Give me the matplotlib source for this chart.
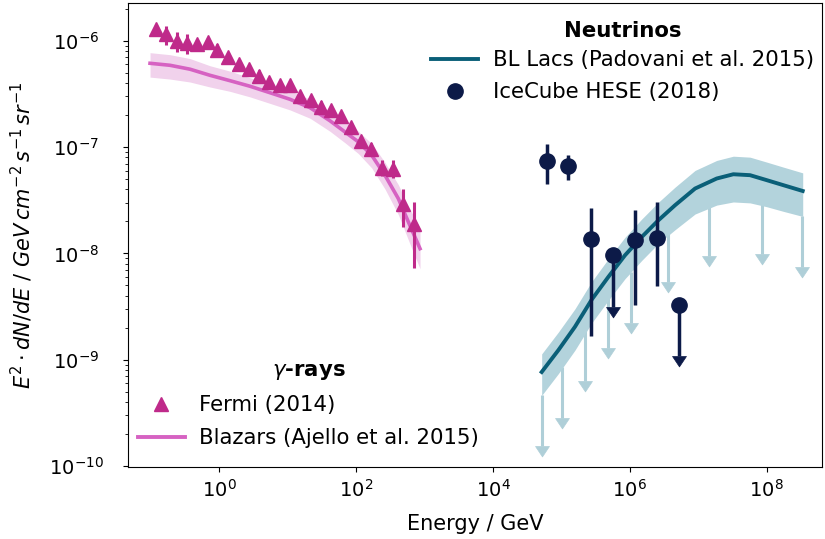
import numpy as np
import matplotlib
matplotlib.use("Agg")
import matplotlib.pyplot as plt
from matplotlib.lines import Line2D
from matplotlib.path import Path

# Fermi-LAT extragalactic gamma-ray background (2014), GeV and GeV cm^-2 s^-1 sr^-1
fermi_energy = [0.118, 0.167, 0.237, 0.335, 0.477, 0.675, 0.938, 1.33, 1.92,
                2.73, 3.79, 5.36, 7.63, 10.9, 15.3, 21.6, 30.6, 42.8, 60.6,
                84.9, 118, 167, 241, 345, 488, 691]
fermi_flux = [1.28e-6, 1.15e-6, 1.00e-6, 9.55e-7, 9.29e-7, 9.66e-7, 8.25e-7,
              7.01e-7, 6.07e-7, 5.47e-7, 4.72e-7, 4.12e-7, 3.82e-7, 3.86e-7,
              3.05e-7, 2.79e-7, 2.41e-7, 2.25e-7, 1.97e-7, 1.55e-7, 1.14e-7,
              9.71e-8, 6.37e-8, 6.29e-8, 2.94e-8, 1.91e-8]
fermi_lo = [1.14e-6, 9.15e-7, 7.90e-7, 7.60e-7, 8.30e-7, 8.60e-7, 7.35e-7,
            6.25e-7, 5.40e-7, 4.90e-7, 4.20e-7, 3.70e-7, 3.40e-7, 3.45e-7,
            2.70e-7, 2.50e-7, 2.15e-7, 2.00e-7, 1.75e-7, 1.38e-7, 1.01e-7,
            8.60e-8, 5.30e-8, 5.10e-8, 1.77e-8, 7.30e-9]
fermi_hi = [1.44e-6, 1.38e-6, 1.20e-6, 1.15e-6, 1.04e-6, 1.08e-6, 9.25e-7,
            7.85e-7, 6.80e-7, 6.10e-7, 5.30e-7, 4.60e-7, 4.30e-7, 4.30e-7,
            3.40e-7, 3.10e-7, 2.70e-7, 2.50e-7, 2.20e-7, 1.74e-7, 1.28e-7,
            1.09e-7, 7.60e-8, 7.60e-8, 4.08e-8, 3.05e-8]

# Blazar contribution to the gamma-ray background (Ajello et al. 2015)
blazar_energy = [0.097, 0.19, 0.373, 0.731, 1.43, 2.81, 5.51, 10.8, 21.2,
                 41.5, 68.7, 108, 169, 264, 414, 580, 859]
blazar_flux = [6.15e-7, 5.89e-7, 5.41e-7, 4.74e-7, 4.22e-7, 3.74e-7, 3.25e-7,
               2.82e-7, 2.35e-7, 1.77e-7, 1.39e-7, 1.12e-7, 8.39e-8, 5.44e-8,
               3.28e-8, 1.98e-8, 1.11e-8]
blazar_lo = [4.56e-7, 4.37e-7, 4.10e-7, 3.68e-7, 3.35e-7, 2.97e-7, 2.58e-7,
             2.24e-7, 1.87e-7, 1.41e-7, 1.10e-7, 8.69e-8, 6.37e-8, 4.04e-8,
             2.32e-8, 1.34e-8, 7.18e-9]
blazar_hi = [7.74e-7, 7.41e-7, 6.81e-7, 5.83e-7, 5.19e-7, 4.50e-7, 3.91e-7,
             3.40e-7, 2.82e-7, 2.18e-7, 1.75e-7, 1.41e-7, 1.08e-7, 7.18e-8,
             4.43e-8, 2.79e-8, 1.72e-8]

# BL Lac neutrino flux prediction (Padovani et al. 2015)
bllac_energy = [5.16e4, 9.04e4, 1.58e5, 2.78e5, 4.86e5, 8.53e5, 1.50e6, 2.62e6,
                4.59e6, 9.02e6, 1.87e7, 3.27e7, 5.74e7, 1.01e8, 1.76e8, 3.38e8]
bllac_flux = [7.67e-10, 1.23e-9, 2.04e-9, 3.68e-9, 6.01e-9, 9.62e-9, 1.43e-8,
              2.05e-8, 2.84e-8, 4.08e-8, 5.07e-8, 5.56e-8, 5.45e-8, 4.89e-8,
              4.39e-8, 3.87e-8]
bllac_lo = [4.62e-10, 7.40e-10, 1.23e-9, 2.22e-9, 3.62e-9, 5.79e-9, 8.61e-9,
            1.24e-8, 1.67e-8, 2.35e-8, 2.85e-8, 3.05e-8, 2.99e-8, 2.75e-8,
            2.49e-8, 2.23e-8]
bllac_hi = [1.135e-9, 1.82e-9, 3.01e-9, 5.44e-9, 8.89e-9, 1.42e-8, 2.11e-8,
            3.03e-8, 4.20e-8, 6.04e-8, 7.50e-8, 8.22e-8, 8.05e-8, 7.23e-8,
            6.49e-8, 5.73e-8]

# upper limits attached to the BL Lac band
limit_energy = [5.28e4, 1.03e5, 2.22e5, 4.77e5, 1.04e6, 3.67e6, 1.44e7, 8.6e7, 3.27e8]
limit_flux = [4.63e-10, 8.55e-10, 1.90e-9, 3.90e-9, 6.70e-9, 1.65e-8, 2.84e-8,
              2.99e-8, 2.24e-8]

# IceCube HESE (2018) unfolded astrophysical spectrum
hese_energy = [6.12e4, 1.27e5, 2.72e5, 5.64e5, 1.19e6, 2.53e6, 5.26e6]
hese_flux = [7.36e-8, 6.65e-8, 1.38e-8, 9.6e-9, 1.33e-8, 1.41e-8, 3.30e-9]
hese_lo = [4.48e-8, 4.96e-8, 1.66e-9, 9.6e-9, 3.30e-9, 4.94e-9, 3.30e-9]
hese_hi = [1.06e-7, 8.4e-8, 2.68e-8, 9.6e-9, 2.55e-8, 3.03e-8, 3.30e-9]
hese_is_limit = [False, False, False, True, False, False, True]

x_ticks = [1e0, 1e2, 1e4, 1e6, 1e8]
y_ticks = [1e-10, 1e-9, 1e-8, 1e-7, 1e-6]

FERMI = "#bf2a8a"
BLAZAR = "#d662c2"
BLAZAR_BAND = "#f1d2ec"
TEAL = "#0a5f78"
TEAL_BAND = "#b3d3dc"
LIMIT = "#afcfd8"
NAVY = "#0c1a48"

ARROW_FRAC = 0.33
arrow_head = Path([[-1.0, 0.0], [0.0, -1.5], [1.0, 0.0], [-1.0, 0.0]],
                  [Path.MOVETO, Path.LINETO, Path.LINETO, Path.CLOSEPOLY])


def draw_upper_limits(ax, x, y, color, lw, ms, z):
    x = np.asarray(x, dtype=float)
    y = np.asarray(y, dtype=float)
    ax.vlines(x, y * ARROW_FRAC, y, colors=color, lw=lw, zorder=z)
    ax.plot(x, y * ARROW_FRAC, ls="none", marker=arrow_head, ms=ms,
            mfc=color, mec=color, mew=0.5, zorder=z)


plt.rcParams["font.family"] = ["DejaVu Sans"]
plt.rcParams["font.size"] = 14
LEG_SIZE = 15.3

fig = plt.figure(figsize=(8.25, 5.39), dpi=100)
ax = fig.add_axes([128 / 825, 1 - 467 / 539, (822 - 128) / 825, (467 - 3) / 539])
ax.set_xscale("log")
ax.set_yscale("log")

# gamma rays
ax.fill_between(blazar_energy, blazar_lo, blazar_hi, color=BLAZAR_BAND, lw=0, zorder=2)
ax.plot(blazar_energy, blazar_flux, color=BLAZAR, lw=2.6, zorder=3)
f_flux = np.asarray(fermi_flux)
ax.errorbar(fermi_energy, f_flux,
            yerr=[f_flux - np.asarray(fermi_lo), np.asarray(fermi_hi) - f_flux],
            fmt="^", color=FERMI, ms=10.5, elinewidth=2.2, capsize=0, zorder=5)

# neutrinos
draw_upper_limits(ax, limit_energy, limit_flux, LIMIT, 2.2, 15, 1)
ax.fill_between(bllac_energy, bllac_lo, bllac_hi, color=TEAL_BAND, lw=0, zorder=2)
ax.plot(bllac_energy, bllac_flux, color=TEAL, lw=2.8, zorder=3)

h_e = np.asarray(hese_energy)
h_f = np.asarray(hese_flux)
h_lim = np.asarray(hese_is_limit)
meas = ~h_lim
ax.errorbar(h_e[meas], h_f[meas],
            yerr=[h_f[meas] - np.asarray(hese_lo)[meas], np.asarray(hese_hi)[meas] - h_f[meas]],
            fmt="o", color=NAVY, ms=11, elinewidth=2.5, capsize=0, zorder=6)
draw_upper_limits(ax, h_e[h_lim], h_f[h_lim], NAVY, 2.5, 15, 6)
ax.plot(h_e[h_lim], h_f[h_lim], "o", color=NAVY, ms=11, zorder=6)

ax.set_xlim(0.0462, 6.47e8)
ax.set_ylim(9.8e-11, 2.27e-6)
ax.set_xticks(x_ticks)
ax.xaxis.set_minor_locator(matplotlib.ticker.NullLocator())
ax.set_yticks(y_ticks)
ax.tick_params(labelsize=14)
ax.tick_params(axis="y", which="major", pad=33.9)
for lbl in ax.get_yticklabels():
    lbl.set_horizontalalignment("center")
ax.tick_params(axis="x", which="major", pad=5)

ax.set_xlabel("Energy / GeV", fontsize=15, labelpad=9.6)
ax.set_ylabel(r"$E^2 \cdot dN/dE\ /\ GeV\,cm^{-2}\,s^{-1}\,sr^{-1}$", fontsize=15)
ax.yaxis.set_label_coords(-0.134, 0.5)

nu_handles = [Line2D([], [], color=TEAL, lw=2.8),
              Line2D([], [], ls="none", marker="o", color=NAVY, ms=11)]
leg_nu = ax.legend(nu_handles, ["BL Lacs (Padovani et al. 2015)", "IceCube HESE (2018)"],
                   title="Neutrinos", loc="upper right", frameon=False, fontsize=LEG_SIZE,
                   title_fontproperties={"weight": "bold", "size": LEG_SIZE},
                   handlelength=2.2, handletextpad=0.7, labelspacing=0.55,
                   borderaxespad=0.2, bbox_to_anchor=(1.007, 1.0 - 5 / 464))
leg_nu._legend_box.sep = 6.9
ax.add_artist(leg_nu)

gam_handles = [Line2D([], [], ls="none", marker="^", color=FERMI, ms=10.5),
               Line2D([], [], color=BLAZAR, lw=2.8)]
ax.legend(gam_handles, ["Fermi (2014)", "Blazars (Ajello et al. 2015)"],
          title=r"$\gamma$-rays", loc="lower left", frameon=False, fontsize=LEG_SIZE,
          title_fontproperties={"weight": "bold", "size": LEG_SIZE},
          handlelength=2.2, handletextpad=0.7, labelspacing=0.61,
          borderaxespad=0.2, bbox_to_anchor=(-3 / 694, 6 / 464))

fig.savefig("out.png", dpi=100)
